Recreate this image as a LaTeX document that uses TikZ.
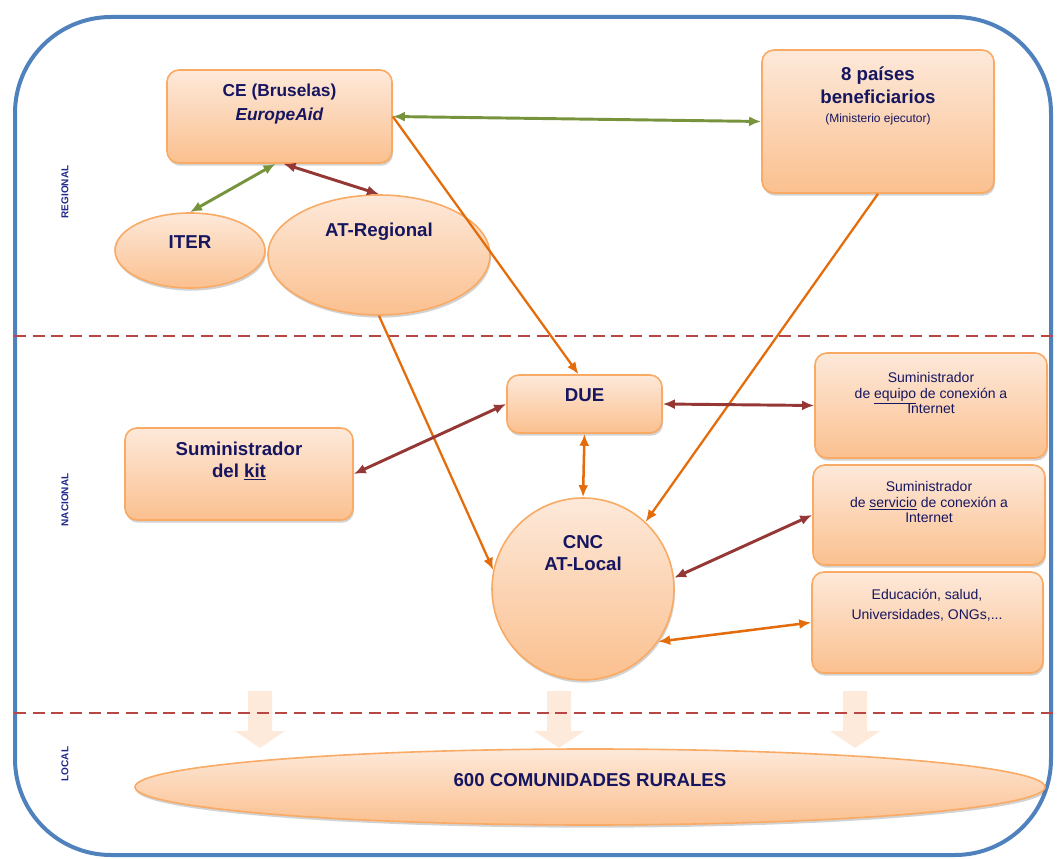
\documentclass[tikz,border=0pt]{standalone}
\usepackage{fontspec}
\setmainfont{Liberation Sans}
\usetikzlibrary{arrows.meta,shadows,calc,shapes.geometric}
\definecolor{frameblue}{RGB}{79,129,189}
\definecolor{dashred}{RGB}{184,70,68}
\definecolor{boxtop}{RGB}{253,233,218}
\definecolor{boxbot}{RGB}{251,192,143}
\definecolor{boxline}{RGB}{249,170,100}
\definecolor{navy}{RGB}{22,22,96}
\definecolor{sideblue}{RGB}{30,40,140}
\definecolor{agreen}{RGB}{119,147,60}
\definecolor{ared}{RGB}{149,55,53}
\definecolor{aorange}{RGB}{228,108,10}
\definecolor{blockfill}{RGB}{253,234,218}
\tikzset{
  base/.style={top color=boxtop, bottom color=boxbot, draw=boxline, line width=1.2pt,
    drop shadow={shadow xshift=0.8pt, shadow yshift=-2pt, opacity=0.25, fill=black!70}},
  box/.style={base, rectangle, rounded corners=9pt, inner sep=0pt},
  oval/.style={base, ellipse, inner sep=0pt},
  txt/.style={text=navy, font=\bfseries\fontsize{14}{17}\selectfont, align=center, inner sep=0pt},
  smalltxt/.style={text=navy, font=\fontsize{10.5}{11.8}\selectfont, align=center, inner sep=0pt},
  sidetxt/.style={text=sideblue, font=\bfseries\fontsize{7.5}{8}\selectfont, rotate=90, inner sep=0pt},
  tip/.tip={Latex[length=9pt,width=7.5pt]},
  both/.style={line width=2.2pt, tip-tip},
  oneway/.style={line width=1.7pt, -tip},
}
\begin{document}
\begin{tikzpicture}[x=0.75pt,y=-0.75pt]
\useasboundingbox (0,0) rectangle (1058,859);
% frame
\draw[frameblue, line width=3pt, rounded corners=72pt] (15,17) rectangle (1051,855);
% block arrows
\foreach \cx in {260,559,855}
  \fill[blockfill] (\cx-12,691) -- (\cx+12,691) -- (\cx+12,731) -- (\cx+25,731)
    -- (\cx,748) -- (\cx-25,731) -- (\cx-12,731) -- cycle;
% dashed separators
\draw[dashred, line width=2.2pt, dash pattern=on 9pt off 5pt] (14,336) -- (1058,336);
\draw[dashred, line width=2.2pt, dash pattern=on 9pt off 5pt] (14,713) -- (1058,713);
% side labels
\node[sidetxt] (lreg) at (65,192) {REGIONAL};
\node[sidetxt] (lnac) at (65,500) {NACIONAL};
\node[sidetxt] (lloc) at (65,764) {LOCAL};
% shapes
\node[box, minimum width=168.75pt, minimum height=69.75pt] (ce) at (279.5,116.5) {};
\node[box, minimum width=174pt, minimum height=107.25pt] (pais) at (878,121.5) {};
\node[oval, minimum width=112.5pt, minimum height=56.25pt] (iter) at (190,250.5) {};
\node[oval, minimum width=166.5pt, minimum height=90pt] (atreg) at (379,255) {};
\node[box, minimum width=116.25pt, minimum height=43.5pt] (due) at (584.5,404) {};
\node[box, minimum width=171pt, minimum height=69pt] (kit) at (239,474) {};
\node[base, circle, minimum size=136.5pt, inner sep=0pt] (cnc) at (583,589) {};
\node[box, minimum width=174pt, minimum height=78.75pt] (equipo) at (931,405.5) {};
\node[box, minimum width=174pt, minimum height=75pt] (serv) at (929,515) {};
\node[box, minimum width=173.25pt, minimum height=75.75pt] (educ) at (927.5,622.5) {};
\node[oval, minimum width=682.5pt, minimum height=57pt] (com) at (590,787) {};
% texts
\node[txt, font=\bfseries\fontsize{13}{18}\selectfont] (ce-t) at (279.5,104) {CE (Bruselas)\\\textit{EuropeAid}};
\node[txt] (pais-t) at (878,96) {8 países\\beneficiarios\\[-3pt]{\mdseries\fontsize{9}{10}\selectfont(Ministerio ejecutor)}};
\node[txt] (iter-t) at (190,242) {ITER};
\node[txt] (atreg-t) at (379,232) {AT-Regional};
\node[txt] (due-t) at (584.5,395) {DUE};
\node[txt] (kit-t) at (239,461) {Suministrador\\del \underline{kit}};
\node[txt, font=\bfseries\fontsize{14}{16}\selectfont] (cnc-t) at (583,553) {CNC\\AT-Local};
\node[smalltxt] (equipo-t) at (931,393) {Suministrador\\de \underline{equipo} de conexión a\\Internet};
\node[smalltxt] (serv-t) at (929,502) {Suministrador\\de \underline{servicio} de conexión a\\Internet};
\node[smalltxt, font=\fontsize{10.5}{15}\selectfont] (educ-t) at (927,605) {Educación, salud,\\Universidades, ONGs,...};
\node[txt] (com-t) at (590,780) {600 COMUNIDADES RURALES};
% connectors
\draw[both, agreen] (ce.east) -- (pais.west);
\draw[both, agreen] (iter.north) -- ($(ce.south)+(-4,0)$);
\draw[both, ared] ($(ce.south)+(4,0)$) -- (atreg.north);
\draw[oneway, aorange] (ce.east) -- ($(due.north)+(-6,0)$);
\draw[oneway, aorange] (pais.south) -- (cnc.47);
\draw[oneway, aorange] (atreg.south) -- (cnc.168);
\draw[both, ared] (due.west) -- (kit.east);
\draw[both, ared] (due.east) -- (equipo.west);
\draw[both, aorange, line width=1.9pt] (due.south) -- (cnc.north);
\draw[both, ared] (cnc.7) -- (serv.west);
\draw[both, aorange, line width=1.9pt] (cnc.-35) -- (educ.west);
\end{tikzpicture}
\end{document}
